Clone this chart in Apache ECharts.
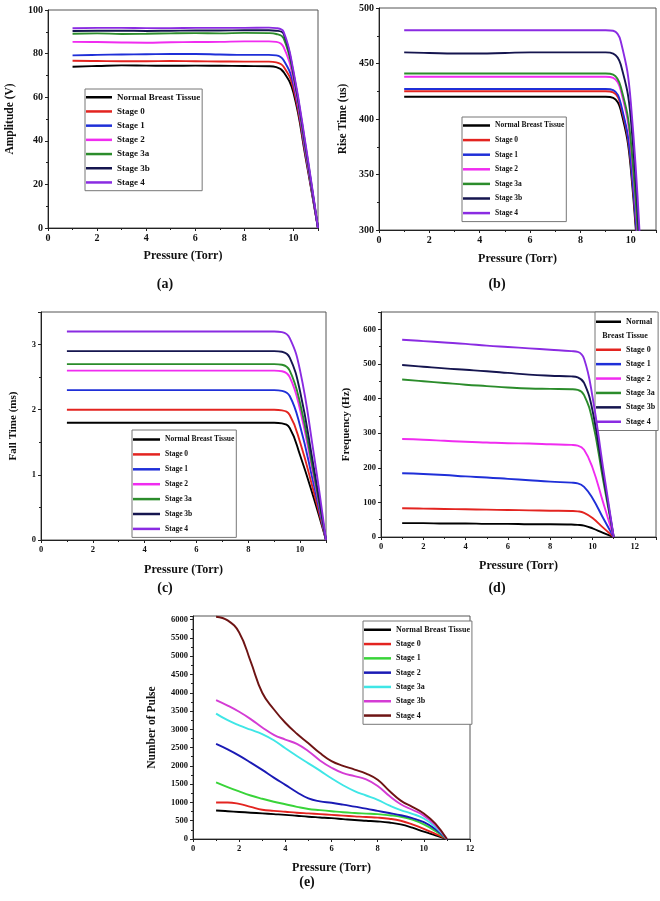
<!DOCTYPE html>
<html><head><meta charset="utf-8">
<script src="https://cdn.jsdelivr.net/npm/echarts@6/dist/echarts.min.js"></script>
<style>html,body{margin:0;padding:0;background:#fff}#c{width:660px;height:901px}</style>
</head><body><div id="c"></div>
<script>
// ---------- data ----------
const NAMES = ['Normal Breast Tissue','Stage 0','Stage 1','Stage 2','Stage 3a','Stage 3b','Stage 4'];
const COLORS_ABCD = ['#000000','#E32420','#1F2FD8','#F02CF0','#2B8C2B','#15154F','#8A2BE2'];
const COLORS_E = ['#000000','#E32420','#39D439','#1A1AB5','#3FE6E6','#D43CD4','#6E1414'];

const pressureABCD = [1,2,3,4,5,6,7,8,9,9.3,9.6,10,10.5,11];
const pressureE = [1,1.5,2,2.5,3,3.5,4,4.5,5,5.5,6,6.5,7,7.5,8,8.5,9,9.5,10,10.5,11];

// (a) Amplitude (V)
const ampNormal = [74.0,74.3,74.6,74.5,74.4,74.5,74.4,74.3,74.2,73.8,71.5,62,32,0];
const ampStage0 = [76.7,76.6,76.5,76.5,76.6,76.5,76.4,76.3,76.3,76.0,74,64,33,0];
const ampStage1 = [79.2,79.4,79.6,79.7,79.8,79.8,79.6,79.4,79.4,79.2,77,66,34,0];
const ampStage2 = [85.4,85.3,85.1,85.0,85.2,85.3,85.4,85.6,85.6,85.4,83,68,35,0];
const ampStage3a = [89.1,89.3,89.0,89.1,89.3,89.4,89.3,89.5,89.4,89.0,87,70,36,0];
const ampStage3b = [90.4,90.5,90.5,90.4,90.5,90.6,90.6,90.7,90.7,90.5,89,71,37,0];
const ampStage4 = [91.6,91.8,91.8,91.7,91.7,91.8,91.8,91.8,91.9,91.7,90,72,38,0];

// (b) Rise Time (us)
const riseNormal = [420,420,420,420,420,420,420,420,420,419,408,355,190,0];
const riseStage0 = [425,425,425,425,425,425,425,425,425,424,412,360,195,0];
const riseStage1 = [427,427,427,427,427,427,427,427,427,426,414,362,198,0];
const riseStage2 = [438,438,438,438,438,438,438,438,438,437,426,375,205,0];
const riseStage3a = [441,441,441,441,441,441,441,441,441,440,429,380,210,0];
const riseStage3b = [460,459.5,459,459,459.5,460,460,460,460,459,449,400,220,0];
const riseStage4 = [480,480,480,480,480,480,480,480,480,479.5,470,415,230,0];

// (c) Fall Time (ms)
const fallNormal = [1.8,1.8,1.8,1.8,1.8,1.8,1.8,1.8,1.8,1.79,1.72,1.3,0.68,0];
const fallStage0 = [2.0,2.0,2.0,2.0,2.0,2.0,2.0,2.0,2.0,1.99,1.92,1.5,0.78,0];
const fallStage1 = [2.3,2.3,2.3,2.3,2.3,2.3,2.3,2.3,2.3,2.29,2.21,1.75,0.9,0];
const fallStage2 = [2.6,2.6,2.6,2.6,2.6,2.6,2.6,2.6,2.6,2.59,2.5,2.0,1.02,0];
const fallStage3a = [2.7,2.7,2.7,2.7,2.7,2.7,2.7,2.7,2.7,2.69,2.6,2.1,1.08,0];
const fallStage3b = [2.9,2.9,2.9,2.9,2.9,2.9,2.9,2.9,2.9,2.89,2.8,2.28,1.18,0];
const fallStage4 = [3.2,3.2,3.2,3.2,3.2,3.2,3.2,3.2,3.2,3.19,3.1,2.6,1.4,0];

// (d) Frequency (Hz)
const freqNormal = [40,40,39,39,38,38,37,37,36,35,33,25,12,0];
const freqStage0 = [83,82,81,80,79,78,77,76,75,74,70,55,27,0];
const freqStage1 = [184,182,179,175,172,168,164,160,157,155,145,112,55,0];
const freqStage2 = [283,281,278,275,273,271,270,268,266,264,252,200,100,0];
const freqStage3a = [455,450,445,440,436,432,429,428,427,425,410,335,165,0];
const freqStage3b = [497,492,487,483,479,474,469,466,464,461,445,365,182,0];
const freqStage4 = [570,566,562,558,553,549,545,541,537,535,515,405,200,0];

// (e) Number of Pulse
const pulseNormal = [780,760,740,720,700,680,660,635,610,590,570,545,520,500,480,450,400,310,200,100,0];
const pulseStage0 = [1000,1000,960,880,800,770,745,720,700,680,660,640,620,600,585,555,500,400,280,140,0];
const pulseStage1 = [1550,1420,1300,1190,1100,1020,950,880,820,790,760,730,710,695,680,650,610,530,400,220,0];
const pulseStage2 = [2600,2450,2280,2090,1890,1680,1480,1280,1110,1030,990,940,885,830,770,710,650,570,460,270,0];
const pulseStage3a = [3430,3250,3110,2990,2870,2700,2480,2270,2070,1870,1660,1470,1310,1190,1070,920,790,690,560,330,0];
const pulseStage3b = [3800,3650,3480,3280,3050,2850,2720,2600,2400,2150,1950,1800,1720,1630,1450,1180,950,800,640,380,0];
const pulseStage4 = [6080,5980,5650,4850,4000,3550,3180,2880,2620,2350,2130,2000,1900,1790,1620,1320,1050,880,700,420,0];

// ---------- build ----------
const FONT = "'Liberation Serif','Times New Roman',serif";
const panels = [
  {xs: pressureABCD, sets:[ampNormal,ampStage0,ampStage1,ampStage2,ampStage3a,ampStage3b,ampStage4], colors: COLORS_ABCD},
  {xs: pressureABCD, sets:[riseNormal,riseStage0,riseStage1,riseStage2,riseStage3a,riseStage3b,riseStage4], colors: COLORS_ABCD},
  {xs: pressureABCD, sets:[fallNormal,fallStage0,fallStage1,fallStage2,fallStage3a,fallStage3b,fallStage4], colors: COLORS_ABCD},
  {xs: pressureABCD, sets:[freqNormal,freqStage0,freqStage1,freqStage2,freqStage3a,freqStage3b,freqStage4], colors: COLORS_ABCD},
  {xs: pressureE, sets:[pulseNormal,pulseStage0,pulseStage1,pulseStage2,pulseStage3a,pulseStage3b,pulseStage4], colors: COLORS_E}
];

const grids = [
  {left:48, top:10, width:270, height:218},
  {left:379, top:8, width:277, height:222},
  {left:41, top:312, width:285, height:228},
  {left:381, top:312, width:275, height:225},
  {left:193, top:616, width:277, height:223}
].map(g => Object.assign(g, {show:true, borderColor:'#555', borderWidth:1, backgroundColor:'transparent', containLabel:false}));

function hideOff(step){ return v => (Math.abs(v/step - Math.round(v/step)) < 1e-6 ? String(v) : ''); }

function xAxis(gi, max, interval, gap, fs){
  return {type:'value', gridIndex:gi, min:0, max:max, interval:interval,
    name:'Pressure (Torr)', nameLocation:'middle', nameGap:gap,
    nameTextStyle:{fontFamily:FONT, fontWeight:'bold', fontSize:12, color:'#111'},
    axisLine:{show:true, onZero:false, lineStyle:{color:'#222', width:1}},
    axisTick:{show:true, length:3, lineStyle:{color:'#222'}},
    minorTick:{show:true, splitNumber:2, length:2, lineStyle:{color:'#222'}},
    splitLine:{show:false},
    axisLabel:{fontFamily:FONT, fontWeight:'bold', fontSize:fs, color:'#111', margin:5, formatter:hideOff(interval)}
  };
}
function yAxis(gi, name, min, max, interval, gap, fs, nfs){
  return {type:'value', gridIndex:gi, min:min, max:max, interval:interval,
    name:name, nameLocation:'middle', nameGap:gap,
    nameTextStyle:{fontFamily:FONT, fontWeight:'bold', fontSize:nfs, color:'#111'},
    axisLine:{show:true, onZero:false, lineStyle:{color:'#222', width:1}},
    axisTick:{show:true, length:3, lineStyle:{color:'#222'}},
    minorTick:{show:true, splitNumber:2, length:2, lineStyle:{color:'#222'}},
    splitLine:{show:false},
    axisLabel:{fontFamily:FONT, fontWeight:'bold', fontSize:fs, color:'#111', margin:5, formatter:hideOff(interval)}
  };
}

const xAxes = [
  xAxis(0, 11, 2, 22, 10),
  xAxis(1, 11, 2, 23, 10),
  xAxis(2, 11, 2, 24, 8.5),
  xAxis(3, 13, 2, 23, 8.5),
  xAxis(4, 12, 2, 23, 8.5)
];
const yAxes = [
  yAxis(0, 'Amplitude (V)', 0, 100, 20, 32, 10, 11.5),
  yAxis(1, 'Rise Time (us)', 300, 500, 50, 30, 10, 11.5),
  yAxis(2, 'Fall Time (ms)', 0, 3.5, 1, 22, 8.5, 11),
  yAxis(3, 'Frequency (Hz)', 0, 650, 100, 29, 8.5, 11),
  yAxis(4, 'Number of Pulse', 0, 6100, 500, 35, 8.5, 11.5)
];

const series = [];
panels.forEach((p, gi) => {
  p.sets.forEach((vals, k) => {
    series.push({
      type:'line', name:NAMES[k], xAxisIndex:gi, yAxisIndex:gi,
      data: p.xs.map((x, i) => [x, vals[i]]),
      smooth:0.45, symbol:'none', showSymbol:false, clip:true,
      lineStyle:{width:1.9, color:p.colors[k]}, itemStyle:{color:p.colors[k]},
      emphasis:{disabled:true}, animation:false, z: 2 + k
    });
  });
});

function legend(gi, left, top, fs, gap, iw, pad, opts){
  opts = opts || {};
  const idx = opts.idx || NAMES.map((_, k) => k);
  return {
    orient:'vertical', left:left, top:top, selectedMode:false, z: opts.z || 4,
    itemWidth:iw, itemHeight:2.5, itemGap:gap, icon:'rect',
    padding:pad, borderColor: opts.noBorder ? 'transparent' : '#777', borderWidth: opts.noBorder ? 0 : 1,
    backgroundColor: opts.noBorder ? 'transparent' : '#fff',
    textStyle:{fontFamily:FONT, fontWeight:'bold', fontSize:fs, color:'#111', lineHeight:fs+1.5},
    formatter: opts.fmt || (n => n),
    data: idx.map(k => ({name:NAMES[k], itemStyle:{color:panels[gi].colors[k]}}))
  };
}

const legends = [
  legend(0, 85, 89, 9, 3.7, 26, [3,2,3,1]),
  legend(1, 462, 117, 7.5, 5.6, 27, [4,2,4,1]),
  legend(2, 132, 430, 7.5, 5.9, 27, [5,2,4,1]),
  legend(3, 595, 312, 8, 4.9, 25, [33,3,4,1], {idx:[1,2,3,4,5,6]}),
  legend(3, 595, 317, 8, 4.9, 25, [0,3,0,1], {idx:[0], noBorder:true, z:6, fmt: n => 'Normal'}),
  legend(4, 363, 621, 8, 4.8, 27, [4,2,4,1])
];

const labelStyle = {font:"bold 14px " + FONT, fill:'#111', textAlign:'center', textVerticalAlign:'middle'};
const graphic = [
  ['(a)', 165, 284], ['(b)', 497, 284], ['(c)', 165, 588], ['(d)', 497, 588], ['(e)', 307, 882]
].map(([t, x, y]) => ({type:'text', x:x, y:y, style:Object.assign({text:t}, labelStyle)}));
graphic.push({type:'text', x:625, y:336, z:100,
  style:{text:'Breast Tissue', font:"bold 8px " + FONT, fill:'#111', textAlign:'center', textVerticalAlign:'middle'}});

const chart = echarts.init(document.getElementById('c'), null, {renderer:'canvas'});
chart.setOption({
  animation:false,
  backgroundColor:'#fff',
  grid:grids, xAxis:xAxes, yAxis:yAxes, series:series, legend:legends, graphic:graphic
});
</script></body></html>
